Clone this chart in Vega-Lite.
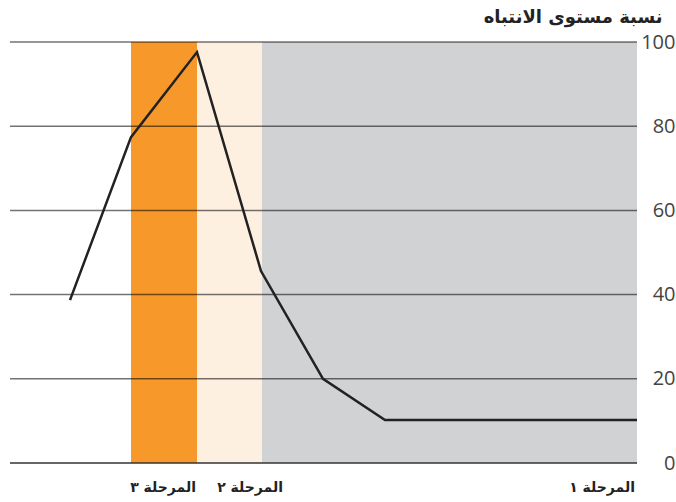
{
  "$schema": "https://vega.github.io/schema/vega-lite/v6.json",
  "width": 627,
  "height": 421,
  "autosize": {"type": "none"},
  "padding": {"left": 10, "top": 42, "right": 39, "bottom": 39},
  "background": "white",
  "config": {"view": {"stroke": null}},
  "layer": [
    {
      "data": {"values": [
        {"start": 121, "end": 187, "phase": "3"},
        {"start": 187, "end": 252, "phase": "2"},
        {"start": 252, "end": 627, "phase": "1"}
      ]},
      "mark": {"type": "rect"},
      "encoding": {
        "x": {"field": "start", "type": "quantitative", "scale": {"domain": [0, 627], "nice": false, "zero": false}, "axis": null},
        "x2": {"field": "end"},
        "y": {"datum": 0, "type": "quantitative", "scale": {"domain": [0, 100], "nice": false}},
        "y2": {"datum": 100},
        "color": {"field": "phase", "type": "nominal", "scale": {"domain": ["3", "2", "1"], "range": ["#f7982a", "#fef0e1", "#d1d2d4"]}, "legend": null}
      }
    },
    {
      "data": {"values": [{"v": 20}, {"v": 40}, {"v": 60}, {"v": 80}, {"v": 100}]},
      "mark": {"type": "rule", "color": "#000000", "opacity": 0.55, "strokeWidth": 1.5},
      "encoding": {
        "y": {"field": "v", "type": "quantitative"}
      }
    },
    {
      "data": {"values": [{"v": 0}]},
      "mark": {"type": "rule", "color": "#333333", "strokeWidth": 1.5},
      "encoding": {
        "y": {"field": "v", "type": "quantitative"}
      }
    },
    {
      "data": {"values": [
        {"t": 60, "attention": 38.7},
        {"t": 121, "attention": 77.4},
        {"t": 187, "attention": 97.6},
        {"t": 251, "attention": 45.6},
        {"t": 313, "attention": 20},
        {"t": 375, "attention": 10.2},
        {"t": 627, "attention": 10.2}
      ]},
      "mark": {"type": "line", "color": "#222222", "strokeWidth": 2.5, "strokeJoin": "miter"},
      "encoding": {
        "x": {"field": "t", "type": "quantitative"},
        "y": {
          "field": "attention",
          "type": "quantitative",
          "axis": {
            "orient": "right",
            "values": [0, 20, 40, 60, 80, 100],
            "grid": false,
            "domain": false,
            "ticks": false,
            "labelAlign": "right",
            "labelBaseline": "middle",
            "labelPadding": 38,
            "labelFont": "Open Sans",
            "labelFontSize": 20,
            "labelColor": "#444444",
            "title": "نسبة مستوى الانتباه",
            "titleAngle": 0,
            "titleX": 25,
            "titleY": -20,
            "titleAlign": "right",
            "titleBaseline": "alphabetic",
            "titleFont": "DejaVu Sans",
            "titleFontWeight": "bold",
            "titleFontSize": 18,
            "titleColor": "#222222"
          }
        }
      }
    },
    {
      "data": {"values": [
        {"pos": 186, "label": "المرحلة ٣"},
        {"pos": 273, "label": "المرحلة ٢"},
        {"pos": 625, "label": "المرحلة ١"}
      ]},
      "mark": {"type": "text", "align": "right", "baseline": "middle", "dy": 25, "font": "DejaVu Sans", "fontWeight": "bold", "fontSize": 14, "color": "#222222"},
      "encoding": {
        "x": {"field": "pos", "type": "quantitative"},
        "y": {"datum": 0, "type": "quantitative"},
        "text": {"field": "label"}
      }
    }
  ]
}
